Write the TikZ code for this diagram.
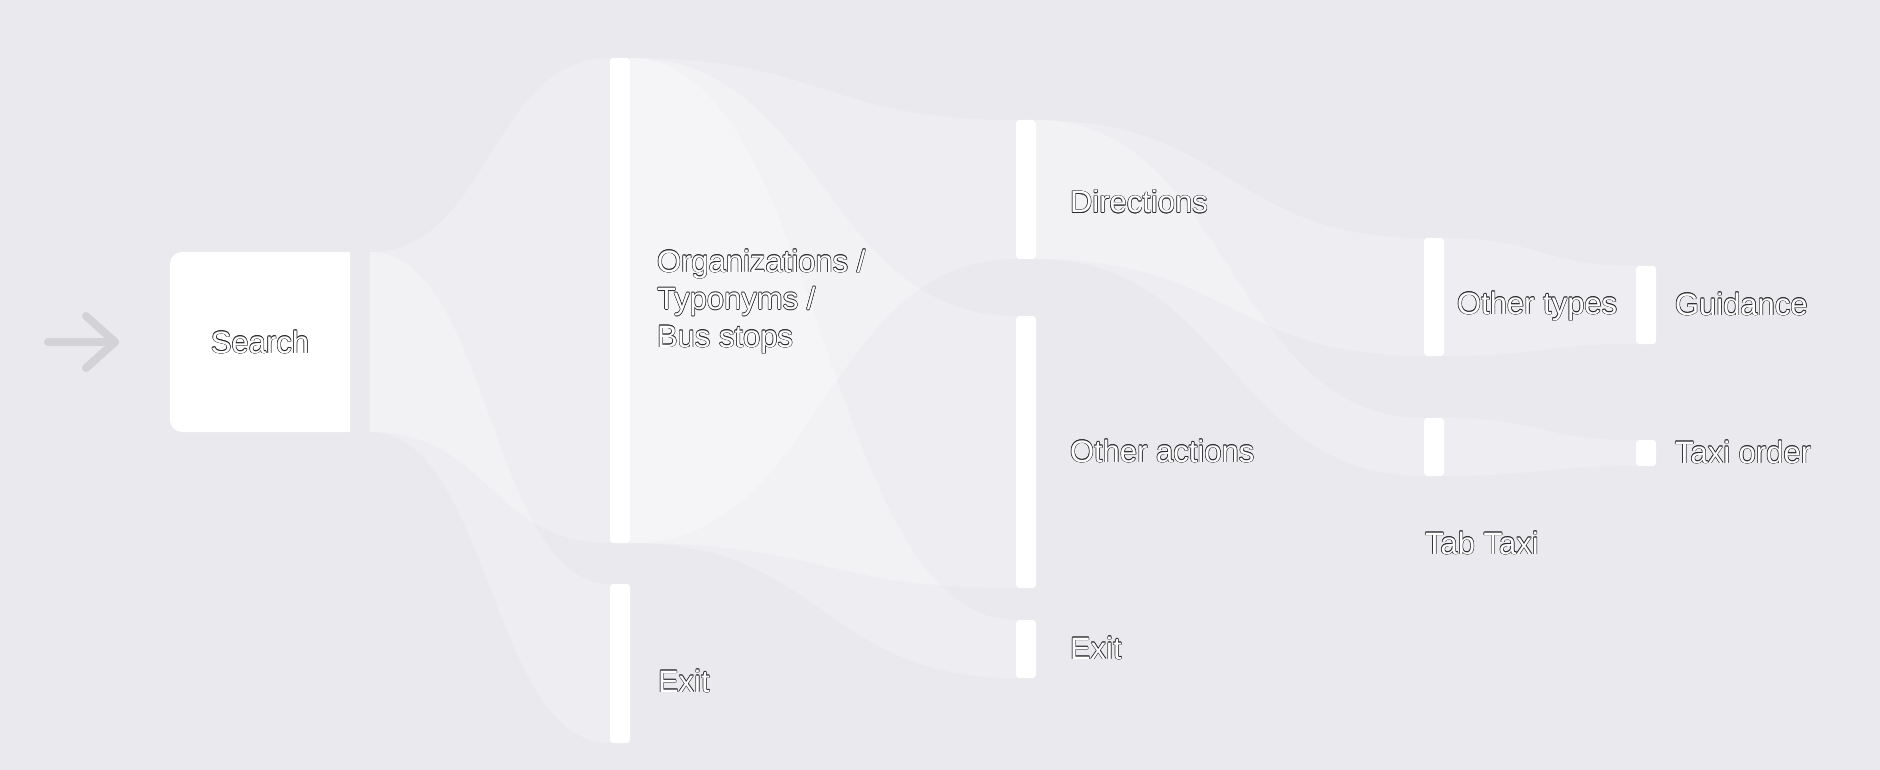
\documentclass[tikz,border=0pt]{standalone}
\usepackage{fontspec}
\setmainfont{Liberation Sans}
\usetikzlibrary{calc}
\definecolor{bg}{HTML}{E9E9EE}
\definecolor{arrowc}{HTML}{D3D3D7}
\definecolor{edge}{HTML}{2A2A2E}
\newcommand\cpy[3]{\rlap{\kern#1\raisebox{#2}{\textcolor{edge}{#3}}}}
\newcommand\outl[1]{\cpy{0.55pt}{0pt}{#1}\cpy{-0.55pt}{0pt}{#1}\cpy{0pt}{0.55pt}{#1}\cpy{0pt}{-0.55pt}{#1}\cpy{0.4pt}{0.4pt}{#1}\cpy{-0.4pt}{0.4pt}{#1}\cpy{0.4pt}{-0.4pt}{#1}\cpy{-0.4pt}{-0.4pt}{#1}\textcolor{white}{#1}}
\newcommand\flow[2]{\fill[band] let \p1=(#1.north east), \p2=(#2.north west), \p3=(#2.south west), \p4=(#1.south east), \n1={0.5*(\x1+\x2)} in (\p1) .. controls (\n1,\y1) and (\n1,\y2) .. (\p2) -- (\p3) .. controls (\n1,\y3) and (\n1,\y4) .. (\p4) -- cycle;}
\tikzset{
  bar/.style={fill=white, rounded corners=3pt, inner sep=0pt, outer sep=0pt, minimum width=20pt, anchor=north west},
  port/.style={inner sep=0pt, outer sep=0pt, minimum width=20pt, minimum height=180pt, anchor=north west},
  band/.style={fill=white, fill opacity=0.25},
  lbl/.style={font=\fontsize{31}{37.5}\selectfont, inner sep=0pt, outer sep=0pt, align=left, anchor=base west},
  entry/.style={draw=arrowc, line width=8pt, line cap=round, line join=round}
}
\begin{document}
\begin{tikzpicture}[x=1pt,y=-1pt]
\fill[bg] (0,0) rectangle (1880,770);
\useasboundingbox (0,0) rectangle (1880,770);
% entry arrow
\coordinate (a0) at (48,342);
\coordinate (a1) at (115,342);
\draw[entry] (a0) -- (a1);
\draw[entry] (86,316) -- (a1) -- (86,368);
% search box
\fill[white] (260,252) -- (350,252) -- (350,432) -- (260,432) [rounded corners=12pt] -- (170,432) -- (170,252) -- cycle;
\node[lbl, anchor=north west, minimum width=180pt, minimum height=180pt, align=center] (search) at (170,252) {\outl{Search}};
\node[port] (sport) at (350,252) {};
% bars
\node[bar, minimum height=485pt] (org) at (610,58) {};
\node[bar, minimum height=159pt] (exit1) at (610,584) {};
\node[bar, minimum height=139pt] (dir) at (1016,120) {};
\node[bar, minimum height=272pt] (oth) at (1016,316) {};
\node[bar, minimum height=58pt] (exit2) at (1016,620) {};
\node[bar, minimum height=118pt] (otypes) at (1424,238) {};
\node[bar, minimum height=58pt] (tab) at (1424,418) {};
\node[bar, minimum height=78pt] (guid) at (1636,266) {};
\node[bar, minimum height=26pt] (taxi) at (1636,440) {};
% flows
\flow{sport}{org}
\flow{sport}{exit1}
\flow{org}{dir}
\flow{org}{oth}
\flow{org}{exit2}
\flow{dir}{otypes}
\flow{dir}{tab}
\flow{otypes}{guid}
\flow{tab}{taxi}
% labels
\node[lbl] (lorg) at (657,347) {\outl{Organizations /}\\\outl{Typonyms /}\\\outl{Bus stops}};
\node[lbl] (lexit1) at (658,692) {\outl{Exit}};
\node[lbl] (ldir) at (1070,213) {\outl{Directions}};
\node[lbl] (loth) at (1070,462) {\outl{Other actions}};
\node[lbl] (lexit2) at (1070,659) {\outl{Exit}};
\node[lbl] (lotypes) at (1457,314) {\outl{Other types}};
\node[lbl] (ltab) at (1425,554) {\outl{Tab Taxi}};
\node[lbl] (lguid) at (1675,315) {\outl{Guidance}};
\node[lbl] (ltaxi) at (1675,463) {\outl{Taxi order}};
\end{tikzpicture}
\end{document}
